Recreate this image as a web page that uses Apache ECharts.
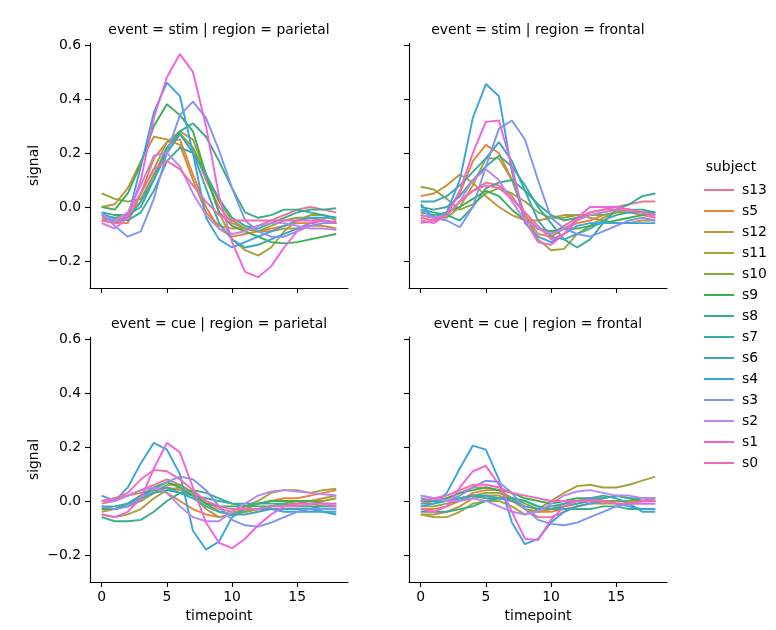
<!DOCTYPE html>
<html>
<head>
<meta charset="utf-8">
<script src="https://cdn.jsdelivr.net/npm/echarts@6/dist/echarts.min.js"></script>
<style>html,body{margin:0;padding:0;background:#fff}#chart{width:776px;height:630px}</style>
</head>
<body>
<div id="chart"></div>
<script>
const timepoints = [0,1,2,3,4,5,6,7,8,9,10,11,12,13,14,15,16,17,18];
const subjects = ['s13','s5','s12','s11','s10','s9','s8','s7','s6','s4','s3','s2','s1','s0'];
const colors = ['#f0758c','#ed803a','#c8923a','#a8a03a','#88a83a','#3bb04f','#36ae8a','#38aba0','#3aa8b8','#3aa5dc','#7f94f2','#bb85f2','#f062e0','#f56ab8'];
const xTicks = [0,5,10,15];
const yTicks = [-0.2,0,0.2,0.4,0.6];

const stimParietal = [
  [-0.04,-0.05,-0.04,0.02,0.12,0.22,0.27,0.22,0.1,0.0,-0.06,-0.08,-0.07,-0.05,-0.03,-0.01,0.0,-0.01,-0.02],
  [-0.05,-0.06,-0.06,0.05,0.18,0.24,0.25,0.12,0.0,-0.08,-0.11,-0.10,-0.09,-0.08,-0.07,-0.06,-0.06,-0.07,-0.08],
  [0.0,0.01,0.07,0.17,0.26,0.25,0.23,0.1,-0.02,-0.07,-0.08,-0.08,-0.09,-0.09,-0.08,-0.08,-0.07,-0.07,-0.08],
  [-0.05,-0.04,-0.03,0.05,0.14,0.24,0.28,0.25,0.12,-0.02,-0.12,-0.16,-0.18,-0.15,-0.09,-0.05,-0.03,-0.03,-0.05],
  [0.05,0.03,0.02,0.03,0.12,0.2,0.27,0.22,0.12,0.02,-0.05,-0.08,-0.09,-0.07,-0.05,-0.04,-0.04,-0.05,-0.06],
  [0.0,-0.01,0.05,0.16,0.3,0.38,0.34,0.28,0.12,-0.02,-0.07,-0.09,-0.11,-0.13,-0.135,-0.13,-0.12,-0.11,-0.1],
  [-0.02,-0.03,-0.03,0.0,0.1,0.22,0.28,0.31,0.26,0.17,0.07,-0.02,-0.04,-0.03,-0.01,-0.01,-0.02,-0.03,-0.04],
  [-0.03,-0.04,-0.05,-0.02,0.06,0.17,0.22,0.2,0.12,0.03,-0.04,-0.07,-0.08,-0.06,-0.04,-0.02,-0.01,-0.01,-0.005],
  [-0.02,-0.05,-0.04,0.02,0.1,0.2,0.27,0.2,0.07,-0.06,-0.12,-0.15,-0.14,-0.12,-0.1,-0.08,-0.06,-0.05,-0.06],
  [-0.03,-0.06,-0.04,0.15,0.35,0.46,0.41,0.2,-0.04,-0.12,-0.15,-0.13,-0.11,-0.09,-0.07,-0.05,-0.04,-0.04,-0.04],
  [-0.02,-0.07,-0.11,-0.09,0.03,0.2,0.34,0.39,0.33,0.21,0.07,-0.05,-0.09,-0.11,-0.11,-0.09,-0.07,-0.06,-0.06],
  [-0.03,-0.05,-0.02,0.08,0.19,0.2,0.15,0.05,-0.03,-0.08,-0.1,-0.09,-0.07,-0.06,-0.06,-0.07,-0.08,-0.08,-0.085],
  [-0.06,-0.08,-0.04,0.1,0.33,0.48,0.566,0.5,0.3,0.04,-0.13,-0.24,-0.26,-0.22,-0.15,-0.09,-0.06,-0.05,-0.055],
  [-0.05,-0.06,-0.03,0.05,0.14,0.17,0.14,0.08,0.02,-0.03,-0.05,-0.05,-0.05,-0.05,-0.05,-0.05,-0.05,-0.05,-0.06]
];
const stimFrontal = [
  [-0.04,-0.05,-0.03,0.02,0.06,0.09,0.08,0.04,-0.03,-0.08,-0.1,-0.07,-0.04,-0.02,-0.01,0.0,0.01,0.02,0.02],
  [-0.03,-0.04,-0.02,0.05,0.17,0.23,0.2,0.1,-0.03,-0.1,-0.11,-0.08,-0.06,-0.05,-0.03,-0.02,-0.02,-0.03,-0.04],
  [0.04,0.05,0.08,0.12,0.09,0.04,0.0,-0.03,-0.05,-0.05,-0.04,-0.03,-0.03,-0.04,-0.05,-0.06,-0.06,-0.05,-0.05],
  [-0.03,-0.04,-0.04,0.0,0.08,0.18,0.18,0.1,-0.03,-0.12,-0.16,-0.155,-0.1,-0.07,-0.04,-0.02,-0.01,-0.02,-0.03],
  [0.075,0.065,0.03,-0.01,0.01,0.05,0.07,0.05,0.02,-0.02,-0.04,-0.04,-0.03,-0.03,-0.03,-0.02,-0.02,-0.02,-0.02],
  [-0.02,-0.03,-0.02,0.0,0.03,0.06,0.04,-0.01,-0.05,-0.08,-0.09,-0.08,-0.08,-0.07,-0.06,-0.05,-0.04,-0.03,-0.02],
  [-0.01,-0.02,-0.03,-0.05,0.0,0.07,0.09,0.1,0.06,0.01,-0.03,-0.05,-0.04,-0.03,-0.02,-0.01,-0.01,-0.01,-0.02],
  [0.0,-0.01,0.0,0.04,0.1,0.15,0.19,0.15,0.08,0.0,-0.06,-0.12,-0.15,-0.12,-0.06,-0.01,0.01,0.04,0.05],
  [0.02,0.02,0.04,0.08,0.13,0.18,0.24,0.17,0.06,-0.05,-0.11,-0.12,-0.1,-0.08,-0.05,-0.03,-0.02,-0.02,-0.02],
  [0.01,-0.04,-0.02,0.1,0.33,0.455,0.41,0.13,-0.06,-0.11,-0.13,-0.1,-0.07,-0.06,-0.06,-0.06,-0.06,-0.06,-0.06],
  [-0.01,-0.04,-0.05,-0.075,0.0,0.15,0.29,0.32,0.25,0.1,-0.04,-0.08,-0.1,-0.11,-0.09,-0.07,-0.05,-0.04,-0.05],
  [-0.03,-0.04,-0.03,0.02,0.1,0.14,0.1,0.02,-0.05,-0.08,-0.1,-0.08,-0.05,-0.03,-0.02,-0.01,-0.01,-0.02,-0.03],
  [-0.05,-0.06,-0.03,0.06,0.2,0.315,0.32,0.15,-0.05,-0.13,-0.14,-0.1,-0.04,0.0,0.0,0.0,-0.01,-0.02,-0.03],
  [-0.06,-0.05,-0.03,0.02,0.06,0.08,0.07,0.03,-0.02,-0.07,-0.12,-0.1,-0.05,-0.02,-0.01,-0.01,-0.01,-0.02,-0.04]
];
const cueParietal = [
  [-0.01,0.0,0.02,0.04,0.06,0.08,0.06,0.03,0.0,-0.03,-0.04,-0.04,-0.03,-0.02,-0.01,-0.01,-0.01,-0.02,-0.02],
  [0.0,0.01,0.02,0.03,0.04,0.03,0.0,-0.03,-0.05,-0.06,-0.05,-0.03,-0.01,0.0,0.01,0.01,0.02,0.03,0.04],
  [-0.04,-0.03,-0.02,0.0,0.03,0.05,0.04,0.02,-0.01,-0.04,-0.05,-0.04,-0.03,-0.02,-0.01,0.0,0.0,0.01,0.02],
  [-0.05,-0.06,-0.05,-0.03,0.01,0.04,0.05,0.02,-0.03,-0.06,-0.05,-0.02,0.0,0.03,0.04,0.04,0.03,0.04,0.045],
  [-0.03,-0.03,-0.02,0.0,0.03,0.06,0.06,0.03,-0.01,-0.04,-0.05,-0.04,-0.03,-0.02,-0.01,-0.01,0.0,0.0,0.01],
  [-0.03,-0.03,-0.01,0.02,0.05,0.07,0.05,0.02,-0.01,-0.02,-0.02,-0.02,-0.01,0.0,0.0,0.0,0.0,-0.01,-0.01],
  [-0.06,-0.075,-0.075,-0.07,-0.04,0.0,0.03,0.04,0.03,0.01,-0.01,-0.02,-0.02,-0.02,-0.02,-0.02,-0.02,-0.02,-0.02],
  [-0.02,-0.02,-0.01,0.01,0.03,0.04,0.03,0.02,0.01,0.0,-0.01,-0.01,-0.01,-0.01,-0.01,-0.02,-0.02,-0.03,-0.03],
  [-0.02,-0.03,-0.01,0.02,0.04,0.05,0.03,0.01,-0.02,-0.04,-0.05,-0.05,-0.04,-0.03,-0.03,-0.03,-0.03,-0.04,-0.05],
  [0.02,0.0,0.05,0.14,0.215,0.19,0.1,-0.11,-0.18,-0.15,-0.06,-0.03,-0.03,-0.03,-0.04,-0.04,-0.04,-0.04,-0.04],
  [-0.02,-0.03,-0.02,0.01,0.04,0.07,0.09,0.08,0.04,-0.02,-0.07,-0.09,-0.095,-0.08,-0.06,-0.04,-0.03,-0.03,-0.03],
  [0.0,0.0,0.02,0.04,0.05,0.03,-0.02,-0.06,-0.075,-0.075,-0.04,-0.01,0.02,0.035,0.04,0.035,0.03,0.025,0.02],
  [-0.05,-0.06,-0.04,0.01,0.12,0.215,0.18,0.05,-0.08,-0.155,-0.175,-0.14,-0.09,-0.05,-0.02,-0.01,-0.01,-0.01,-0.02],
  [0.0,0.01,0.03,0.08,0.115,0.11,0.08,0.04,0.0,-0.02,-0.03,-0.03,-0.03,-0.02,-0.02,-0.02,-0.01,-0.01,-0.01]
];
const cueFrontal = [
  [-0.01,0.0,0.01,0.03,0.05,0.05,0.04,0.01,-0.03,-0.06,-0.06,-0.04,-0.02,-0.01,0.0,0.0,0.0,0.0,0.0],
  [-0.03,-0.03,-0.02,0.0,0.03,0.04,0.04,0.01,-0.03,-0.04,-0.04,-0.03,-0.02,-0.01,-0.01,0.0,0.0,0.0,0.01],
  [-0.05,-0.05,-0.04,-0.02,0.01,0.02,0.02,0.0,-0.03,-0.04,-0.03,-0.01,0.0,0.0,-0.01,-0.01,-0.01,0.0,0.0],
  [-0.05,-0.06,-0.06,-0.04,-0.01,0.0,0.0,-0.02,-0.05,-0.03,0.0,0.03,0.055,0.06,0.05,0.05,0.06,0.075,0.09],
  [-0.02,-0.02,-0.01,0.0,0.02,0.03,0.03,0.01,-0.01,-0.03,-0.03,-0.02,-0.01,0.0,0.0,0.0,0.0,0.01,0.01],
  [0.0,0.0,0.01,0.03,0.04,0.05,0.04,0.03,0.01,0.0,-0.01,0.0,0.01,0.01,0.01,0.02,0.01,0.0,0.0],
  [-0.04,-0.04,-0.04,-0.03,-0.02,0.0,0.01,0.01,0.0,-0.02,-0.03,-0.03,-0.03,-0.03,-0.02,-0.02,-0.03,-0.03,-0.03],
  [0.01,0.0,0.0,0.01,0.02,0.01,0.01,0.01,0.0,-0.02,-0.03,-0.02,-0.01,0.0,0.01,0.02,0.01,0.01,0.01],
  [-0.01,-0.01,0.0,0.01,0.02,0.02,0.01,0.0,-0.02,-0.03,-0.02,-0.01,0.0,0.01,0.02,0.01,-0.01,-0.04,-0.04],
  [-0.02,-0.01,0.03,0.12,0.205,0.19,0.08,-0.08,-0.16,-0.14,-0.08,-0.04,-0.02,-0.01,0.0,-0.01,-0.02,-0.03,-0.03],
  [0.02,0.01,0.0,0.02,0.05,0.075,0.07,0.03,-0.03,-0.07,-0.085,-0.09,-0.08,-0.06,-0.04,-0.02,-0.01,-0.01,-0.01],
  [0.02,0.01,0.0,0.0,0.01,0.0,-0.02,-0.04,-0.05,-0.04,-0.01,0.02,0.035,0.04,0.03,0.02,0.02,0.01,0.01],
  [-0.03,-0.04,-0.02,0.05,0.11,0.13,0.06,-0.04,-0.14,-0.145,-0.07,-0.02,0.0,0.005,0.0,-0.01,-0.01,-0.01,-0.01],
  [0.0,0.01,0.02,0.04,0.06,0.06,0.05,0.03,0.02,0.01,0.0,0.0,0.0,0.0,0.0,-0.01,-0.01,0.0,0.0]
];

const panels = [
  {data: stimParietal, title: 'event = stim | region = parietal'},
  {data: stimFrontal, title: 'event = stim | region = frontal'},
  {data: cueParietal, title: 'event = cue | region = parietal'},
  {data: cueFrontal, title: 'event = cue | region = frontal'}
];

const FONT = 'DejaVu Sans';
const FS = 13.9;
const grids = [
  {left: 90, top: 43, width: 258, height: 245},
  {left: 409, top: 43, width: 258, height: 245},
  {left: 90, top: 337, width: 258, height: 245},
  {left: 409, top: 337, width: 258, height: 245}
];
const axisLineStyle = {color: '#000', width: 1.1};
const fmt = v => {
  const r = Math.round(v * 10) / 10;
  const s = Math.abs(r).toFixed(1);
  return r < 0 ? '\u2212' + s : s;
};
const xAxes = grids.map((g, i) => ({
  type: 'value', gridIndex: i, min: -0.9, max: 18.9,
  axisLine: {show: true, onZero: false, lineStyle: axisLineStyle},
  axisTick: {show: true, length: 5, lineStyle: axisLineStyle, customValues: xTicks},
  axisLabel: {show: i >= 2, customValues: xTicks, color: '#000', fontFamily: FONT, fontSize: FS, margin: 8},
  splitLine: {show: false}
}));
const yAxes = grids.map((g, i) => ({
  type: 'value', gridIndex: i, min: -0.3, max: 0.607,
  axisLine: {show: true, onZero: false, lineStyle: axisLineStyle},
  axisTick: {show: true, length: 5, lineStyle: axisLineStyle, customValues: yTicks},
  axisLabel: {show: i % 2 === 0, customValues: yTicks, color: '#000', fontFamily: FONT, fontSize: FS, margin: 9, formatter: fmt},
  splitLine: {show: false}
}));

const series = [];
panels.forEach((p, pi) => {
  subjects.forEach((s, si) => {
    series.push({
      type: 'line', name: s, xAxisIndex: pi, yAxisIndex: pi,
      data: timepoints.map((t, k) => [t, p.data[si][k]]),
      symbol: 'none', silent: true, animation: false,
      lineStyle: {color: colors[si], width: 1.9},
      itemStyle: {color: colors[si]}
    });
  });
});

const graphics = [];
panels.forEach((p, i) => {
  const g = grids[i];
  graphics.push({type: 'text', x: g.left + g.width / 2, y: g.top - 13,
    style: {text: p.title, font: FS + 'px ' + FONT, fill: '#000', textAlign: 'center', textVerticalAlign: 'middle'}});
});
[grids[0], grids[2]].forEach(g => {
  graphics.push({type: 'text', x: 34, y: g.top + g.height / 2, rotation: Math.PI / 2,
    style: {text: 'signal', font: FS + 'px ' + FONT, fill: '#000', textAlign: 'center', textVerticalAlign: 'middle'}});
});
[grids[2], grids[3]].forEach(g => {
  graphics.push({type: 'text', x: g.left + g.width / 2, y: 616,
    style: {text: 'timepoint', font: FS + 'px ' + FONT, fill: '#000', textAlign: 'center', textVerticalAlign: 'middle'}});
});
graphics.push({type: 'text', x: 731, y: 167,
  style: {text: 'subject', font: FS + 'px ' + FONT, fill: '#000', textAlign: 'center', textVerticalAlign: 'middle'}});

const chart = echarts.init(document.getElementById('chart'), null, {renderer: 'canvas'});
chart.setOption({
  animation: false,
  backgroundColor: '#fff',
  grid: grids,
  xAxis: xAxes,
  yAxis: yAxes,
  legend: {
    data: subjects, orient: 'vertical', left: 699, top: 178,
    icon: 'path://M0,0H30V2H0Z',
    itemWidth: 30, itemHeight: 14, itemGap: 7,
    textStyle: {fontFamily: FONT, fontSize: FS, color: '#000', padding: [0, 0, 0, 3]},
    selectedMode: false
  },
  graphic: graphics,
  series: series
});
</script>
</body>
</html>
